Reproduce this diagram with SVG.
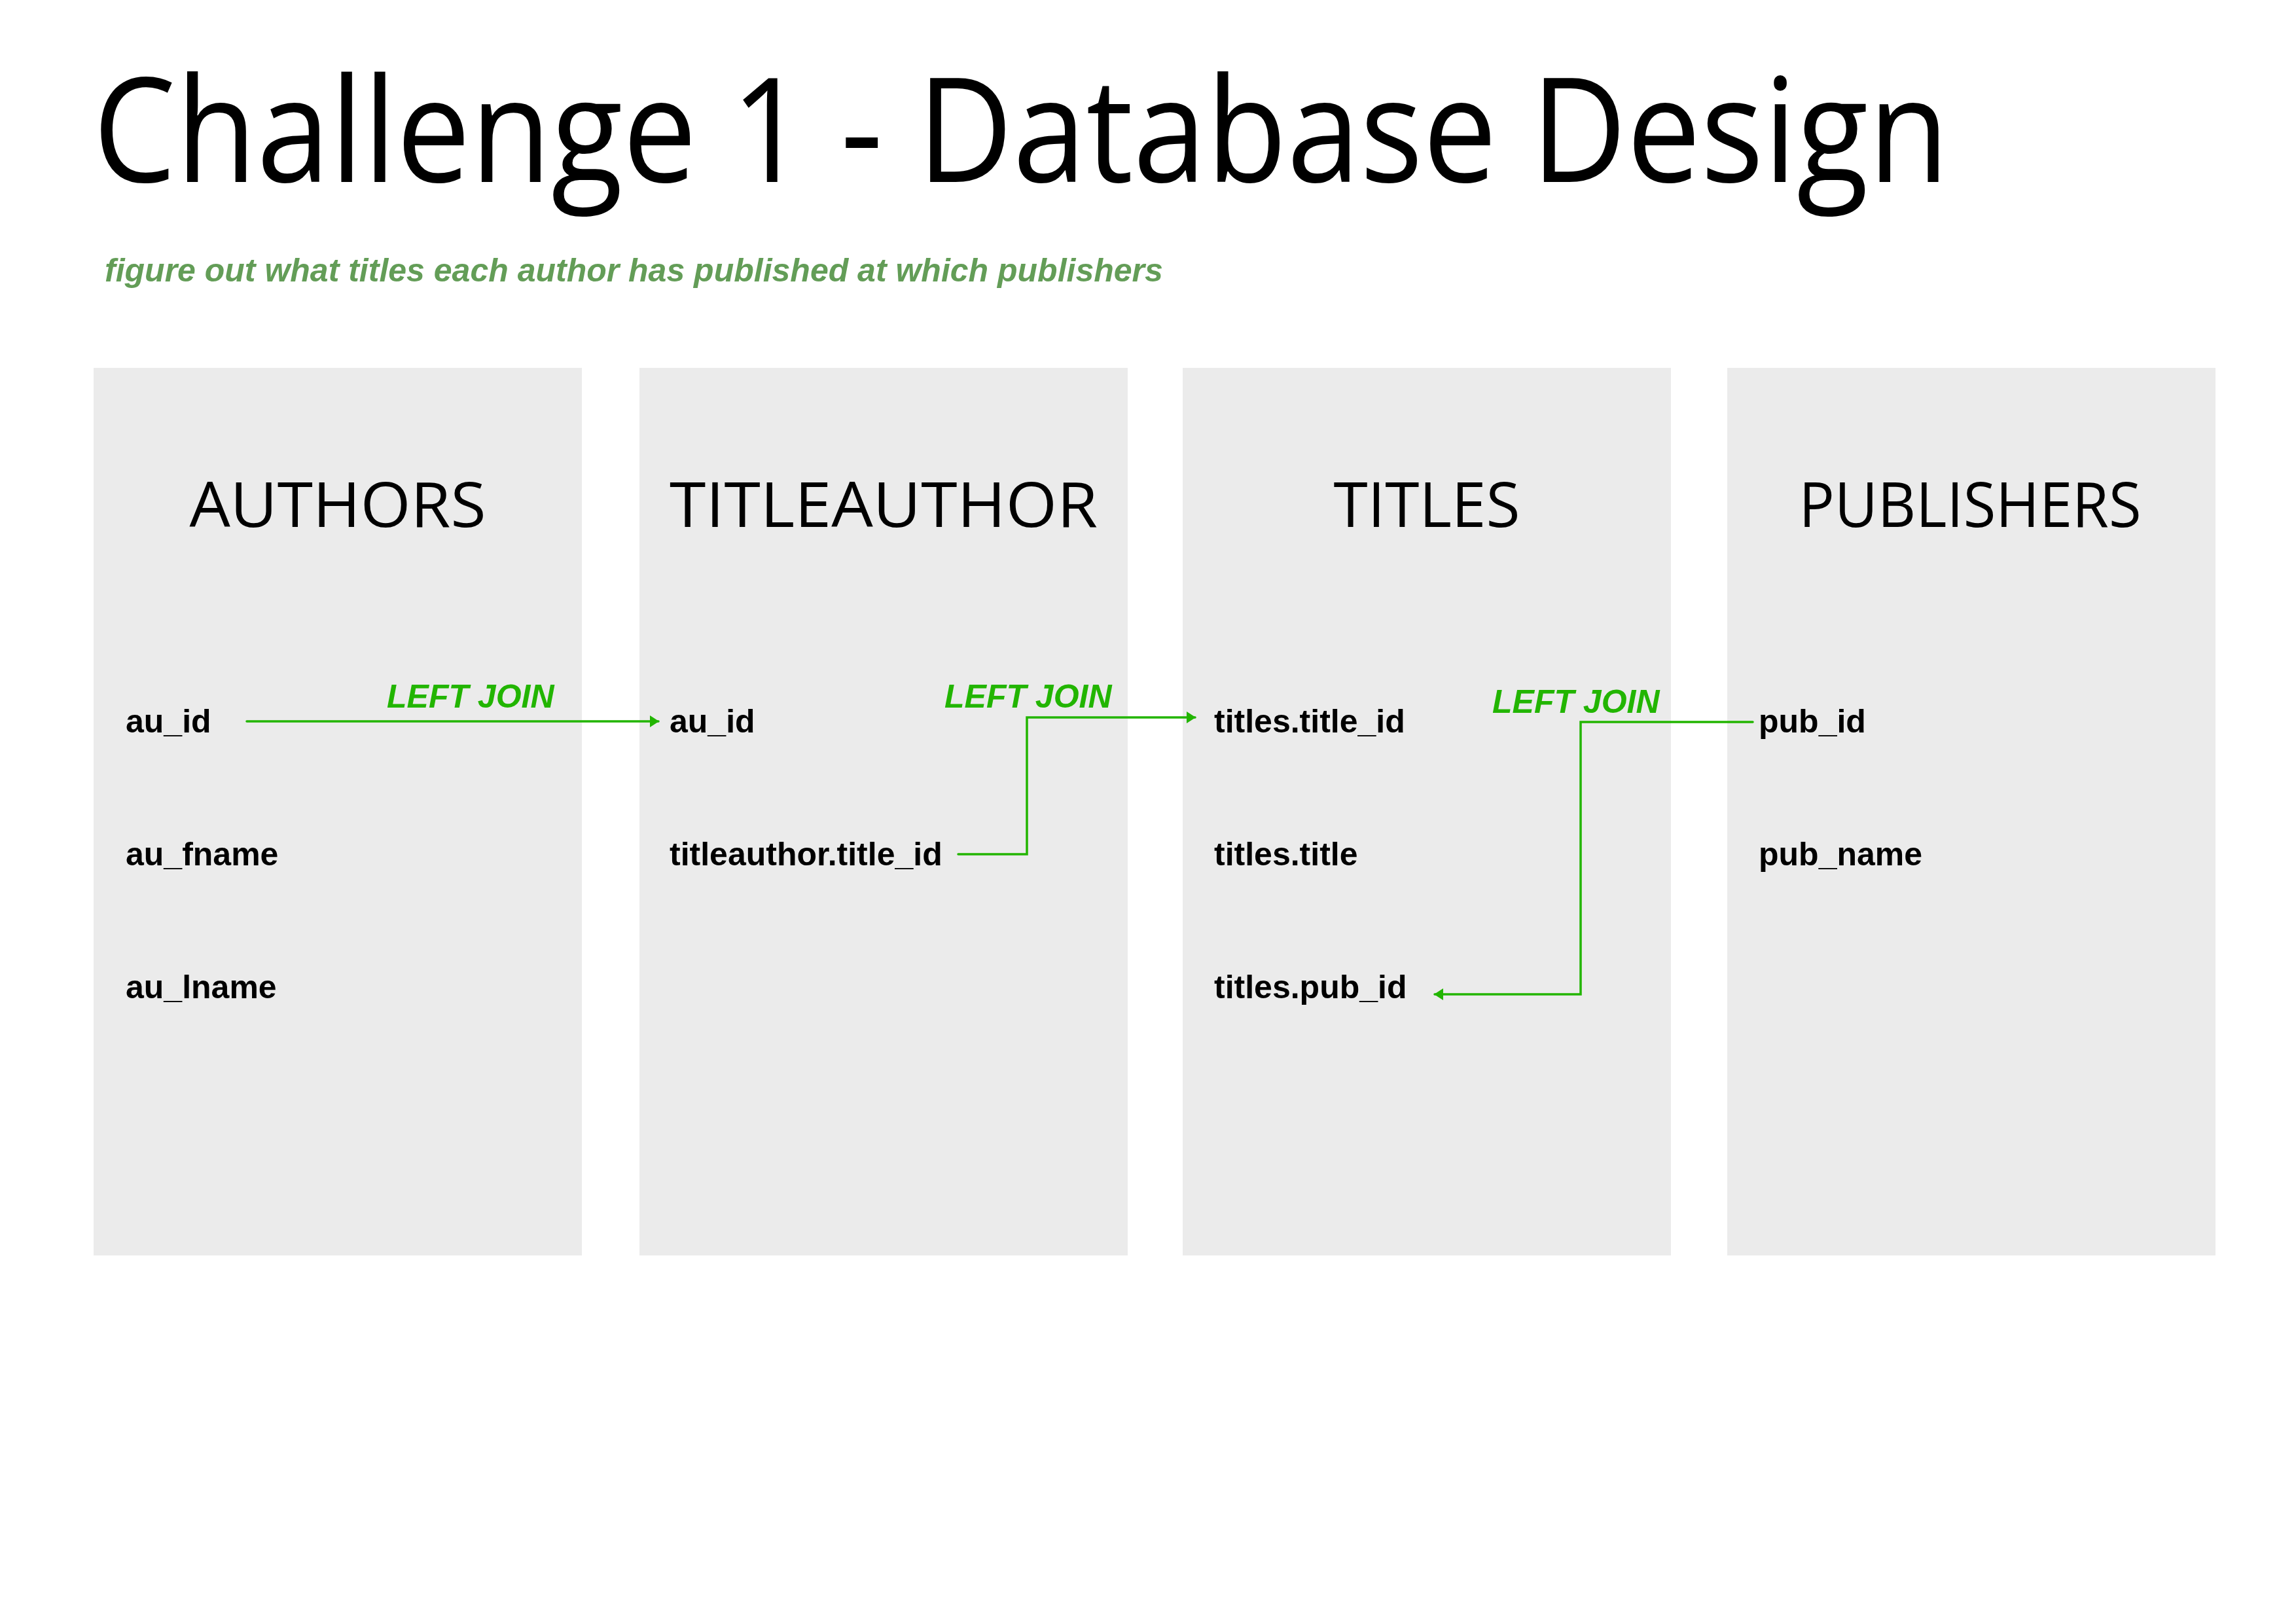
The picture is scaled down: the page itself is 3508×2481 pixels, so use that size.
<svg xmlns="http://www.w3.org/2000/svg" width="3508" height="2481" viewBox="0 0 3508 2481">
<defs>
<style>
.panel{fill:#ebebeb}
.hdr{font-family:"Open Sans","Noto Sans",sans-serif;font-size:95px;fill:#000;text-anchor:middle}
.fld{font-family:"Liberation Sans",Arial,sans-serif;font-weight:bold;font-size:50px;fill:#000}
.join{font-family:"Liberation Sans",Arial,sans-serif;font-weight:bold;font-style:italic;font-size:50px;fill:#22b500}
.conn{fill:none;stroke:#22b500;stroke-width:3.5;stroke-linejoin:miter}
</style>
<marker id="arr" markerUnits="userSpaceOnUse" markerWidth="14" markerHeight="18" viewBox="0 0 14 18" refX="13" refY="9" orient="auto">
<path d="M0,0 L14,9 L0,18 z" fill="#22b500"/>
</marker>
</defs>
<rect width="3508" height="2481" fill="#fff"/>
<text id="title" x="142" y="278" font-family="'Open Sans','Noto Sans',sans-serif" font-size="221" fill="#000" textLength="2836" lengthAdjust="spacingAndGlyphs">Challenge 1 - Database Design</text>
<text id="subtitle" x="160" y="430" font-family="'Liberation Sans',Arial,sans-serif" font-weight="bold" font-style="italic" font-size="50" fill="#639d57">figure out what titles each author has published at which publishers</text>
<g id="authors">
<rect class="panel" x="143" y="562" width="746" height="1356"/>
<text class="hdr" x="516" y="805" textLength="453" lengthAdjust="spacingAndGlyphs">AUTHORS</text>
<text class="fld" x="192" y="1119">au_id</text>
<text class="fld" x="192" y="1322">au_fname</text>
<text class="fld" x="192" y="1525">au_lname</text>
</g>
<g id="titleauthor">
<rect class="panel" x="977" y="562" width="746" height="1356"/>
<text class="hdr" x="1350" y="805" textLength="654" lengthAdjust="spacingAndGlyphs">TITLEAUTHOR</text>
<text class="fld" x="1023" y="1119">au_id</text>
<text class="fld" x="1023" y="1322">titleauthor.title_id</text>
</g>
<g id="titles">
<rect class="panel" x="1807" y="562" width="746" height="1356"/>
<text class="hdr" x="2180" y="805" textLength="285" lengthAdjust="spacingAndGlyphs">TITLES</text>
<text class="fld" x="1855" y="1119">titles.title_id</text>
<text class="fld" x="1855" y="1322">titles.title</text>
<text class="fld" x="1855" y="1525">titles.pub_id</text>
</g>
<g id="publishers">
<rect class="panel" x="2639" y="562" width="746" height="1356"/>
<text class="hdr" x="3010" y="805" textLength="523" lengthAdjust="spacingAndGlyphs">PUBLISHERS</text>
<text class="fld" x="2687" y="1119">pub_id</text>
<text class="fld" x="2687" y="1322">pub_name</text>
</g>
<g id="connectors">
<path class="conn" d="M377,1102 H1006" marker-end="url(#arr)" stroke-linecap="round"/>
<text class="join" x="591" y="1081">LEFT JOIN</text>
<path class="conn" d="M1464,1305 H1569 V1096 H1826" marker-end="url(#arr)" stroke-linecap="round"/>
<text class="join" x="1443" y="1081">LEFT JOIN</text>
<path class="conn" d="M2678,1103 H2415 V1519 H2192" marker-end="url(#arr)" stroke-linecap="round"/>
<text class="join" x="2280" y="1089">LEFT JOIN</text>
</g>
</svg>
